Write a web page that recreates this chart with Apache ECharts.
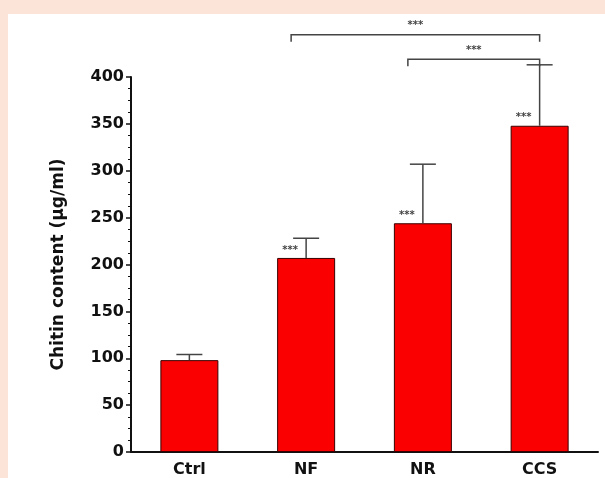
<!DOCTYPE html>
<html>
<head>
<meta charset="utf-8">
<script src="https://cdn.jsdelivr.net/npm/echarts@6/dist/echarts.min.js"></script>
<style>
html,body{margin:0;padding:0;width:605px;height:478px;background:#fce4d8;overflow:hidden;}
#panel{position:absolute;left:8px;top:14px;width:597px;height:464px;background:#ffffff;}
#chart{position:absolute;left:0;top:0;width:605px;height:478px;}
</style>
</head>
<body>
<div id="panel"></div>
<div id="chart"></div>
<script>
// Data
const categories = ['Ctrl', 'NF', 'NR', 'CCS'];
const meanValues = [98, 207, 244, 348];
const errorTops = [104, 228, 307, 413];
const barSignificance = ['', '***', '***', '***'];
const bracketFrom = [1, 2];
const bracketTo = [3, 3];
const bracketLevel = [445, 419];
const bracketLabel = ['***', '***'];
const yTicks = [0, 50, 100, 150, 200, 250, 300, 350, 400];

const chart = echarts.init(document.getElementById('chart'), null, {renderer: 'canvas'});
const FONT = 'DejaVu Sans';

const option = {
  backgroundColor: 'transparent',
  animation: false,
  grid: {left: 131, right: 7, top: 77, bottom: 25, containLabel: false},
  xAxis: {
    type: 'category',
    data: categories,
    axisLine: {lineStyle: {color: '#111', width: 2}},
    axisTick: {show: false},
    axisLabel: {color: '#111', fontFamily: FONT, fontWeight: 'bold', fontSize: 16, margin: 10}
  },
  yAxis: {
    type: 'value',
    min: yTicks[0],
    max: yTicks[yTicks.length - 1],
    interval: yTicks[1] - yTicks[0],
    name: 'Chitin content (\u03bcg/ml)',
    nameLocation: 'middle',
    nameRotate: 90,
    nameGap: 64,
    nameTextStyle: {color: '#111', fontFamily: FONT, fontWeight: 'bold', fontSize: 17},
    axisLine: {show: true, lineStyle: {color: '#111', width: 2}},
    axisTick: {show: true, length: 5, lineStyle: {color: '#111', width: 1.5}},
    minorTick: {show: true, splitNumber: 4, length: 3, lineStyle: {color: '#111', width: 1}},
    splitLine: {show: false},
    axisLabel: {color: '#111', fontFamily: FONT, fontWeight: 'bold', fontSize: 16, margin: 7}
  },
  series: [
    {
      type: 'bar',
      data: meanValues,
      barWidth: 58,
      itemStyle: {color: '#fb0000', borderColor: '#3a0000', borderWidth: 1},
      z: 2
    },
    {
      type: 'custom',
      data: categories.map((c, i) => [i, meanValues[i], errorTops[i]]),
      clip: false,
      z: 3,
      renderItem: function (params, api) {
        const base = api.coord([api.value(0), api.value(1)]);
        const top = api.coord([api.value(0), api.value(2)]);
        const half = 13;
        return {
          type: 'group',
          children: [
            {type: 'line', shape: {x1: base[0], y1: base[1], x2: top[0], y2: top[1]}, style: {stroke: '#444', lineWidth: 1.5}},
            {type: 'line', shape: {x1: top[0] - half, y1: top[1], x2: top[0] + half, y2: top[1]}, style: {stroke: '#444', lineWidth: 1.5}}
          ]
        };
      }
    },
    {
      type: 'custom',
      data: categories.map((c, i) => [i, meanValues[i], barSignificance[i]]),
      clip: false,
      z: 4,
      renderItem: function (params, api) {
        const p = api.coord([api.value(0), api.value(1)]);
        const txt = barSignificance[params.dataIndex];
        return {
          type: 'text',
          style: {
            x: p[0] - 16, y: p[1] - 3, text: txt,
            fill: '#444', font: 'bold 10px ' + FONT,
            textAlign: 'center', textVerticalAlign: 'bottom'
          }
        };
      }
    },
    {
      type: 'custom',
      data: bracketFrom.map((f, i) => [f, bracketTo[i], bracketLevel[i]]),
      clip: false,
      z: 4,
      renderItem: function (params, api) {
        const a = api.coord([api.value(0), api.value(2)]);
        const b = api.coord([api.value(1), api.value(2)]);
        const x1 = a[0] - 15, x2 = b[0], y = a[1], drop = 7;
        return {
          type: 'group',
          children: [
            {type: 'polyline', shape: {points: [[x1, y + drop], [x1, y], [x2, y], [x2, y + drop]]}, style: {stroke: '#444', lineWidth: 1.5, fill: null}},
            {type: 'text', style: {x: (x1 + x2) / 2, y: y - 4, text: bracketLabel[params.dataIndex], fill: '#444', font: 'bold 10px ' + FONT, textAlign: 'center', textVerticalAlign: 'bottom'}}
          ]
        };
      }
    }
  ]
};
chart.setOption(option);
</script>
</body>
</html>
